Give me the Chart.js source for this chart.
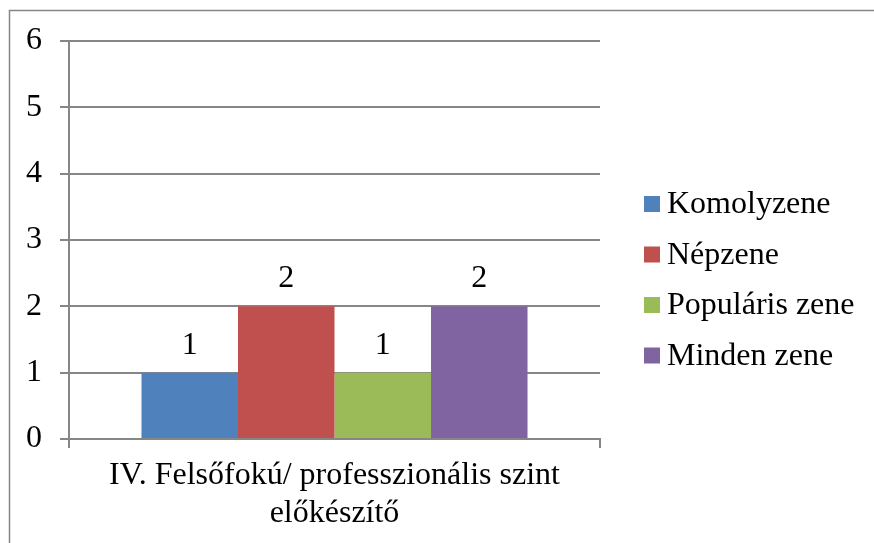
<!DOCTYPE html>
<html>
<head>
<meta charset="utf-8">
<script src="https://cdn.jsdelivr.net/npm/chart.js@4/dist/chart.umd.min.js"></script>
<style>
  html, body { margin: 0; padding: 0; background: #fff; }
  #wrap { width: 874px; height: 543px; }
</style>
</head>
<body>
<div id="wrap"><canvas id="barChart" width="874" height="543"></canvas></div>
<script>
// values
const categories = [['IV. Felsőfokú/ professzionális szint', 'előkészítő']];
const seriesNames = ['Komolyzene', 'Népzene', 'Populáris zene', 'Minden zene'];
const seriesValues = [[1], [2], [1], [2]];
const seriesColors = ['#4F81BD', '#C0504D', '#9BBB59', '#8064A2'];
const yTicks = [0, 1, 2, 3, 4, 5, 6];

const FONT = "'Liberation Serif', 'Times New Roman', serif";
const GRID = '#868686';

// outer frame, like the office chart border
const framePlugin = {
  id: 'frame',
  beforeDraw(chart) {
    const ctx = chart.ctx;
    ctx.save();
    ctx.fillStyle = '#fff';
    ctx.fillRect(0, 0, chart.width, chart.height);
    ctx.strokeStyle = GRID;
    ctx.lineWidth = 1.5;
    ctx.strokeRect(9.5, 10.5, chart.width + 20, chart.height + 20);
    ctx.restore();
  }
};

// value labels above the bars
const valueLabels = {
  id: 'valueLabels',
  afterDatasetsDraw(chart) {
    const ctx = chart.ctx;
    ctx.save();
    ctx.font = '32px ' + FONT;
    ctx.fillStyle = '#000';
    ctx.textAlign = 'center';
    ctx.textBaseline = 'alphabetic';
    chart.data.datasets.forEach((ds, i) => {
      chart.getDatasetMeta(i).data.forEach((bar, j) => {
        ctx.fillText(String(ds.data[j]), bar.x, bar.y - 19);
      });
    });
    ctx.restore();
  }
};

// legend on the right, drawn by hand to sit where the original has it
const sideLegend = {
  id: 'sideLegend',
  afterDraw(chart) {
    const ctx = chart.ctx;
    const x0 = 644, y0 = 204, step = 50.5, box = 16;
    ctx.save();
    ctx.font = '32px ' + FONT;
    ctx.textBaseline = 'middle';
    ctx.textAlign = 'left';
    chart.data.datasets.forEach((ds, i) => {
      const cy = y0 + i * step;
      ctx.fillStyle = ds.backgroundColor;
      ctx.fillRect(x0, cy - box / 2, box, box);
      ctx.fillStyle = '#000';
      ctx.fillText(ds.label, x0 + 23, cy + 1);
    });
    ctx.restore();
  }
};

const data = {
  labels: categories,
  datasets: seriesNames.map((name, i) => ({
    label: name,
    data: seriesValues[i],
    backgroundColor: seriesColors[i],
    borderWidth: 0
  }))
};

const config = {
  type: 'bar',
  data: data,
  options: {
    responsive: false,
    animation: false,
    categoryPercentage: 0.727,
    barPercentage: 1.0,
    layout: { padding: { top: 41, right: 274, bottom: 0, left: 0 } },
    plugins: {
      legend: { display: false },
      tooltip: { enabled: false }
    },
    scales: {
      x: {
        grid: { offset: true, drawOnChartArea: false, drawTicks: true, tickLength: 9, color: GRID, lineWidth: 2 },
        border: { display: true, color: GRID, width: 2 },
        ticks: { color: '#000', font: { family: FONT, size: 32, lineHeight: 1.17 }, padding: 9, maxRotation: 0 },
        afterFit(s) { s.height = 104; }
      },
      y: {
        min: 0,
        max: 6,
        afterBuildTicks(s) { s.ticks = yTicks.map(v => ({ value: v })); },
        grid: { color: GRID, lineWidth: 2, tickLength: 9 },
        border: { display: true, color: GRID, width: 2 },
        ticks: { color: '#000', font: { family: FONT, size: 32 }, padding: 18 },
        afterFit(s) { s.width = 69; }
      }
    }
  },
  plugins: [framePlugin, valueLabels, sideLegend]
};

new Chart(document.getElementById('barChart'), config);
</script>
</body>
</html>
